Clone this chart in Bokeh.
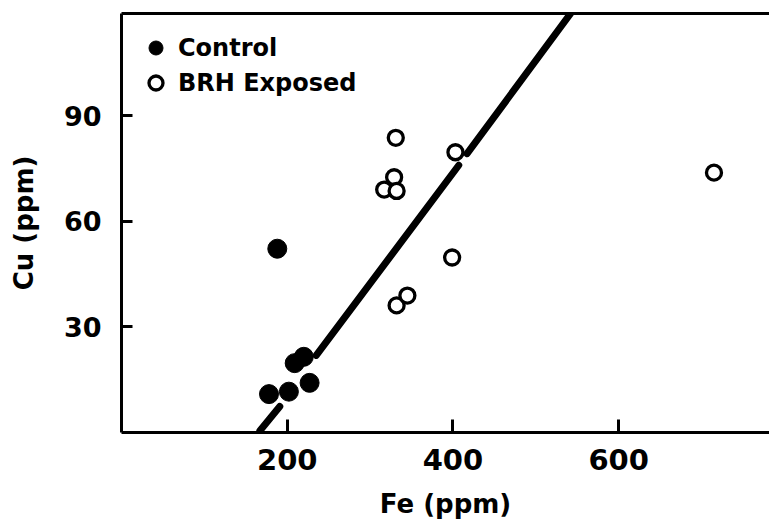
from bokeh.plotting import figure
from bokeh.models import FixedTicker, LinearAxis, Legend, LegendItem, Range1d
from bokeh.embed import file_html
from bokeh.resources import INLINE

# Data
control_fe = [188, 178, 202, 227, 209, 220]
control_cu = [52.2, 10.9, 11.6, 14.1, 19.7, 21.5]
exposed_fe = [331, 329, 317, 332, 403, 332, 345, 399, 715]
exposed_cu = [83.7, 72.5, 69.0, 68.6, 79.6, 36.1, 38.9, 49.7, 73.8]
# regression line as drawn (broken around points)
line_fe = [[167, 191], [235, 407], [417, 542]]
line_cu = [[0.5, 7.4], [21.9, 75.9], [79.2, 119]]
x_ticks = [200, 400, 600]
y_ticks = [30, 60, 90]

FONT = "DejaVu Sans"

p = figure(width=769, height=523, output_backend="svg", toolbar_location=None,
           x_range=Range1d(0, 782), y_range=Range1d(0, 119),
           min_border_left=121, min_border_right=0, min_border_top=13, min_border_bottom=91)
p.outline_line_color = None
p.grid.visible = False
p.background_fill_color = "white"
p.border_fill_color = "white"

for fe, cu in zip(line_fe, line_cu):
    p.line(fe, cu, line_width=7, line_color="black", line_cap="round")

r_ctrl = p.scatter(control_fe, control_cu, size=19, fill_color="black", line_color="black")
r_exp = p.scatter(exposed_fe, exposed_cu, size=15, fill_color="white", line_color="black", line_width=3.3)

for ax in (p.xaxis[0], p.yaxis[0]):
    ax.axis_line_width = 3
    ax.major_tick_line_width = 3
    ax.major_tick_out = 0
    ax.minor_tick_line_color = None
    ax.major_label_text_font = FONT
    ax.major_label_text_font_style = "bold"
    ax.major_label_text_color = "black"
    ax.axis_label_text_font = FONT
    ax.axis_label_text_font_style = "bold"
    ax.axis_label_text_color = "black"

p.xaxis.ticker = FixedTicker(ticks=x_ticks)
p.yaxis.ticker = FixedTicker(ticks=y_ticks)
p.xaxis.major_tick_in = 13
p.yaxis.major_tick_in = 11
p.xaxis.major_label_text_font_size = "29px"
p.yaxis.major_label_text_font_size = "27px"
p.xaxis.major_label_standoff = 16
p.yaxis.major_label_standoff = 20
p.xaxis.axis_label = "Fe (ppm)"
p.yaxis.axis_label = "Cu (ppm)"
p.xaxis.axis_label_text_font_size = "26px"
p.yaxis.axis_label_text_font_size = "26px"
p.xaxis.axis_label_standoff = 16
p.yaxis.axis_label_standoff = 22

top = LinearAxis(ticker=FixedTicker(ticks=[]), axis_line_width=3,
                 major_tick_out=0, major_tick_in=0, minor_tick_out=0, minor_tick_in=0,
                 major_label_text_font_size="0px", major_label_standoff=0)
p.add_layout(top, "above")

legend = Legend(items=[LegendItem(label="Control", renderers=[r_ctrl]),
                       LegendItem(label="BRH Exposed", renderers=[r_exp])],
                location="top_left", border_line_color=None, background_fill_alpha=0,
                padding=16, margin=17, spacing=0, glyph_width=35, glyph_height=35,
                label_height=35, label_standoff=5,
                label_text_font=FONT, label_text_font_style="bold",
                label_text_font_size="24px", label_text_color="black")
p.add_layout(legend)

open("out.html", "w").write(file_html(p, INLINE))
